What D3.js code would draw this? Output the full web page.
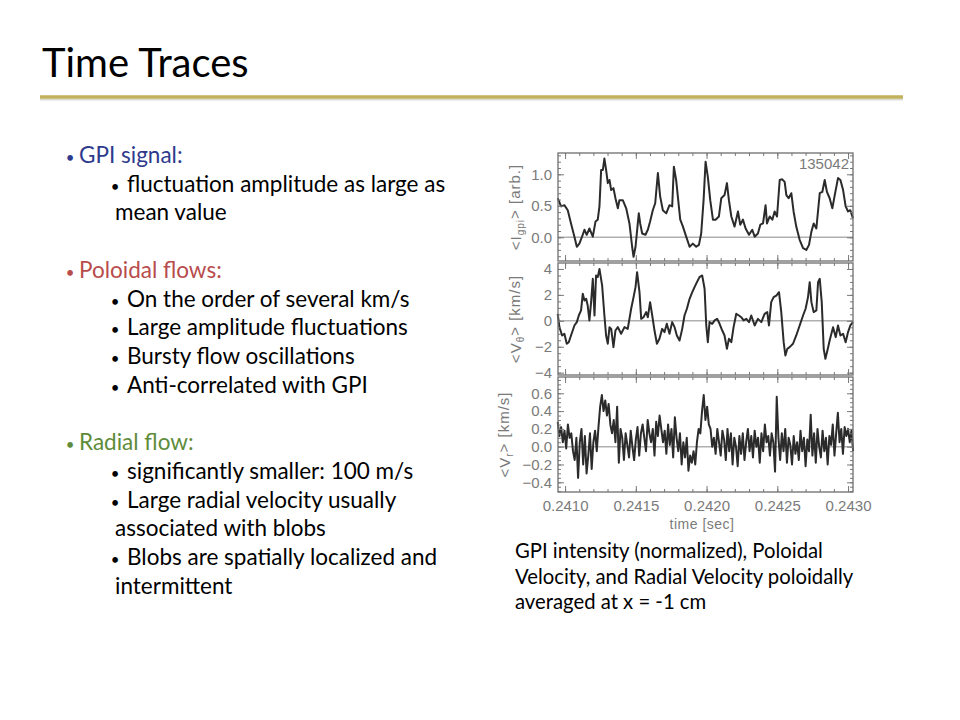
<!DOCTYPE html>
<html>
<head>
<meta charset="utf-8">
<script src="https://cdn.jsdelivr.net/npm/d3@7"></script>
<style>
  body { margin: 0; background: #fff; }
  text { font-family: Lato, "Open Sans", sans-serif; }
  .plot text { font-family: "Liberation Sans", Arial, sans-serif; }
</style>
</head>
<body>
<svg id="slide" width="960" height="720"></svg>
<script>
// ---- data ----
const shotNumber = "135042";

// GPI intensity <I_gpi> [arb.]
const gpiTime = [0.240948,0.240972,0.240995,0.241019,0.241042,0.241066,0.241083,0.241101,0.241120,0.241137,
  0.241153,0.241172,0.241196,0.241215,0.241231,0.241243,0.241255,0.241267,0.241278,0.241290,
  0.241302,0.241314,0.241326,0.241342,0.241356,0.241373,0.241384,0.241408,0.241432,0.241455,
  0.241474,0.241484,0.241498,0.241514,0.241521,0.241531,0.241545,0.241568,0.241585,0.241601,
  0.241620,0.241637,0.241656,0.241672,0.241691,0.241715,0.241738,0.241757,0.241769,0.241785,
  0.241802,0.241814,0.241833,0.241856,0.241880,0.241903,0.241927,0.241946,0.241962,0.241979,
  0.241993,0.242009,0.242026,0.242045,0.242064,0.242087,0.242104,0.242127,0.242144,0.242158,
  0.242175,0.242198,0.242222,0.242238,0.242257,0.242276,0.242300,0.242323,0.242340,0.242363,
  0.242380,0.242399,0.242417,0.242427,0.242446,0.242465,0.242481,0.242498,0.242517,0.242535,
  0.242552,0.242564,0.242580,0.242599,0.242615,0.242634,0.242658,0.242682,0.242705,0.242724,
  0.242741,0.242757,0.242776,0.242800,0.242818,0.242835,0.242851,0.242870,0.242889,0.242906,
  0.242929,0.242946,0.242965,0.242983,0.243000,0.243016,0.243035];
const gpiValue = [0.62,0.49,0.51,0.43,0.22,0.01,-0.15,-0.10,0.01,0.12,
  0.04,0.14,0.01,0.25,0.28,0.49,1.07,1.07,1.25,1.07,
  0.86,0.91,0.75,0.78,0.62,0.46,0.59,0.59,0.46,0.22,
  -0.15,-0.31,-0.15,0.22,0.38,0.22,0.06,0.04,0.12,0.25,
  0.43,0.54,1.02,0.65,0.43,0.38,0.51,0.49,1.12,0.91,
  0.54,0.28,0.17,0.01,-0.15,-0.10,-0.15,-0.12,0.06,0.59,
  1.20,0.96,0.59,0.28,0.28,0.33,0.62,0.67,0.86,0.59,
  0.33,0.17,0.41,0.20,0.28,0.14,0.04,0.12,0.01,0.06,
  0.20,0.22,0.51,0.22,0.33,0.28,0.41,0.33,0.91,0.92,
  0.88,0.67,0.62,0.70,0.41,0.17,-0.04,-0.17,-0.20,-0.12,
  0.09,0.22,0.14,0.70,0.72,0.91,0.72,0.62,0.46,0.67,
  0.94,0.91,0.75,0.49,0.41,0.43,0.30];

// poloidal velocity <V_theta> [km/s]
const vthTime = [0.240948,0.240960,0.240979,0.240995,0.241012,0.241026,0.241042,0.241066,0.241083,0.241097,
  0.241113,0.241125,0.241137,0.241149,0.241160,0.241172,0.241184,0.241196,0.241208,0.241219,
  0.241231,0.241243,0.241262,0.241278,0.241290,0.241302,0.241314,0.241326,0.241342,0.241356,
  0.241373,0.241396,0.241420,0.241443,0.241467,0.241484,0.241498,0.241509,0.241526,0.241538,
  0.241554,0.241573,0.241585,0.241601,0.241616,0.241632,0.241649,0.241667,0.241686,0.241703,
  0.241719,0.241738,0.241757,0.241774,0.241790,0.241809,0.241828,0.241844,0.241861,0.241880,
  0.241899,0.241915,0.241932,0.241950,0.241969,0.241986,0.241998,0.242009,0.242021,0.242040,
  0.242057,0.242075,0.242092,0.242111,0.242127,0.242144,0.242158,0.242175,0.242191,0.242210,
  0.242229,0.242245,0.242262,0.242281,0.242300,0.242316,0.242340,0.242363,0.242387,0.242410,
  0.242429,0.242441,0.242457,0.242474,0.242493,0.242512,0.242528,0.242545,0.242557,0.242571,
  0.242587,0.242611,0.242634,0.242658,0.242682,0.242700,0.242717,0.242729,0.242741,0.242757,
  0.242776,0.242788,0.242800,0.242814,0.242828,0.242840,0.242854,0.242870,0.242894,0.242913,
  0.242929,0.242946,0.242965,0.242983,0.243000,0.243016,0.243035];
const vthValue = [0.54,-0.49,-1.13,-1.00,-1.77,-1.65,-1.13,-0.36,-0.10,0.41,
  0.80,2.08,1.57,1.70,1.18,0.03,1.44,3.24,0.41,3.50,
  3.37,4.00,2.72,0.41,-1.13,-1.77,-0.49,-0.62,-2.03,-0.75,
  -0.49,-1.00,-0.49,-0.62,0.93,1.83,2.60,3.75,2.21,0.15,
  0.28,0.67,0.28,1.44,0.41,-0.75,-1.77,-1.39,-0.62,-0.87,
  -0.23,-1.00,-0.10,-0.49,-1.13,-1.52,-0.62,0.41,0.93,1.70,
  2.21,2.60,2.98,3.37,3.50,2.47,-0.36,-1.65,-0.10,-0.23,
  0.03,0.15,-0.23,-0.75,-1.13,-2.16,-1.39,-1.65,-0.49,0.54,
  0.41,0.28,0.03,0.15,-0.10,0.41,-0.36,0.15,-0.10,0.54,
  0.67,-0.36,1.44,1.83,1.95,2.21,0.67,-1.65,-2.67,-2.16,
  -2.03,-1.77,-1.13,-0.36,0.41,0.93,1.83,2.98,1.44,0.67,
  0.80,2.98,3.24,1.44,-2.16,-2.93,-2.29,-1.52,-0.49,-1.26,
  -0.36,-1.13,-1.00,-1.65,-0.87,-0.36,-0.10];

// radial velocity <V_r> [km/s], sampled every 12 us from 0.240948 s
const vrStart = 0.240948;
const vrStep = 0.000012;
const vrValue = [0.28,0.12,0.22,0.05,0.18,-0.02,0.25,0.10,0.15,-0.05,
  -0.15,0.10,-0.35,0.05,0.20,-0.20,0.12,-0.30,-0.10,
  0.15,-0.25,0.05,0.18,-0.05,0.22,
  0.45,0.58,0.40,0.52,0.35,0.48,
  0.25,0.15,0.30,0.05,0.45,-0.18,
  0.20,0.10,-0.15,0.15,0.02,-0.12,0.18,0.00,-0.15,
  0.08,0.22,-0.10,0.15,0.25,0.10,-0.05,0.30,0.15,0.05,
  0.20,-0.10,0.28,0.12,0.35,0.20,0.05,
  0.18,-0.08,0.25,0.02,0.20,-0.12,0.33,0.10,
  -0.05,0.15,-0.20,0.05,-0.12,0.10,-0.27,-0.10,-0.18,-0.05,
  -0.20,0.05,0.20,0.15,
  0.40,0.58,0.30,0.45,0.25,0.20,
  0.00,0.10,-0.08,0.20,0.05,-0.10,0.18,0.08,-0.15,0.20,
  -0.05,0.15,-0.20,0.10,0.00,-0.22,0.12,-0.08,0.15,-0.15,
  0.05,0.20,-0.05,0.12,-0.12,0.18,0.00,0.10,-0.18,0.15,
  -0.05,0.25,0.05,0.12,-0.10,0.15,
  0.05,-0.28,0.56,0.10,
  -0.15,0.15,-0.05,0.20,-0.18,0.10,0.02,-0.20,0.12,-0.08,
  0.05,-0.15,0.18,-0.05,0.10,-0.22,0.08,-0.05,0.36,-0.10,
  0.15,-0.18,0.20,0.00,-0.12,0.18,-0.05,0.10,-0.20,0.12,
  0.02,0.25,-0.10,0.15,0.38,0.05,0.20,-0.08,0.22,0.12,
  0.20,0.05,0.18,-0.05];

// axis ticks
const timeTicks = [0.2410, 0.2415, 0.2420, 0.2425, 0.2430];
const gpiTicks = [0.0, 0.5, 1.0];
const vthTicks = [-4, -2, 0, 2, 4];
const vrTicks = [-0.4, -0.2, 0.0, 0.2, 0.4, 0.6];

// slide text
const slideTitle = "Time Traces";
const outline = [
  { level: 0, text: "GPI signal:", color: "#2e3a8c" },
  { level: 1, text: "fluctuation amplitude as large as" },
  { level: 2, text: "mean value" },
  null,
  { level: 0, text: "Poloidal flows:", color: "#b84c4c" },
  { level: 1, text: "On the order of several km/s" },
  { level: 1, text: "Large amplitude fluctuations" },
  { level: 1, text: "Bursty flow oscillations" },
  { level: 1, text: "Anti-correlated with GPI" },
  null,
  { level: 0, text: "Radial flow:", color: "#5e8c3a" },
  { level: 1, text: "significantly smaller: 100 m/s" },
  { level: 1, text: "Large radial velocity usually" },
  { level: 2, text: "associated with blobs" },
  { level: 1, text: "Blobs are spatially localized and" },
  { level: 2, text: "intermittent" }
];
const caption = [
  "GPI intensity (normalized), Poloidal",
  "Velocity, and Radial Velocity poloidally",
  "averaged at x = -1 cm"
];

// ---- slide ----
const svg = d3.select("#slide");

svg.append("text")
  .attr("x", 42).attr("y", 77)
  .attr("font-size", 40)
  .attr("fill", "#000")
  .text(slideTitle);

svg.append("line")
  .attr("x1", 40).attr("x2", 903).attr("y1", 99.5).attr("y2", 99.5)
  .attr("stroke", "#dcdcd4").attr("stroke-width", 2);
svg.append("line")
  .attr("x1", 40).attr("x2", 903).attr("y1", 97).attr("y2", 97)
  .attr("stroke", "#c2b25c").attr("stroke-width", 3.5);

// bulleted text
const textX = [79, 127, 115];
const bulletX = [70, 115];
const lineH = 28.73;
const body = svg.append("g").attr("font-size", 22.5);
outline.forEach((d, i) => {
  if (!d) return;
  const y = 163 + i * lineH;
  if (d.level < 2) {
    body.append("text")
      .attr("x", bulletX[d.level]).attr("y", y)
      .attr("text-anchor", "middle")
      .attr("fill", d.color || "#000")
      .attr("font-size", 15)
      .text("\u2022");
  }
  body.append("text")
    .attr("x", textX[d.level]).attr("y", y)
    .attr("fill", d.color || "#000")
    .text(d.text);
});

svg.append("g").attr("font-size", 20.3)
  .selectAll("text").data(caption).join("text")
  .attr("x", 515)
  .attr("y", (d, i) => 558 + i * 25.5)
  .attr("fill", "#000")
  .text(d => d);

// ---- plot ----
const plot = svg.append("g").attr("class", "plot");
const grey = "#7a7a7a";

const x = d3.scaleLinear().domain([0.24095, 0.243035]).range([558, 853]);

const panels = [
  { time: gpiTime, value: gpiValue, domain: [-0.376, 1.338], top: 153, bottom: 261,
    ticks: gpiTicks, minor: 0.1, fmt: d3.format(".1f"), label: ["<I", "gpi", "> [arb.]"], labelX: 516 },
  { time: vthTime, value: vthValue, domain: [-4.18, 4.46], top: 263, bottom: 375,
    ticks: vthTicks, minor: 0.5, fmt: d3.format("d"), label: ["<V", "\u03b8", "> [km/s]"], labelX: 516 },
  { time: vrValue.map((v, i) => vrStart + i * vrStep), value: vrValue, domain: [-0.509, 0.783], top: 377, bottom: 492,
    ticks: vrTicks, minor: 0.05, fmt: d3.format(".1f"), label: ["<V", "r", "> [km/s]"], labelX: 505 }
];

const xMinor = d3.range(0.2410, 0.24305, 0.0001);

panels.forEach((p, k) => {
  const y = d3.scaleLinear().domain(p.domain).range([p.bottom, p.top]);
  const g = plot.append("g");
  const minor = d3.range(Math.ceil(p.domain[0] / p.minor) * p.minor, p.domain[1], p.minor);

  // zero reference line
  g.append("line")
    .attr("x1", x.range()[0]).attr("x2", x.range()[1])
    .attr("y1", y(0)).attr("y2", y(0))
    .attr("stroke", "#b0b0b0").attr("stroke-width", 1.6);

  // trace
  const line = d3.line().x(d => x(d[0])).y(d => y(d[1]));
  g.append("path")
    .datum(d3.zip(p.time, p.value))
    .attr("d", line)
    .attr("fill", "none")
    .attr("stroke", "#2b2b2b")
    .attr("stroke-width", 2)
    .attr("stroke-linejoin", "round");

  // axes: ticks pointing inward on all four sides
  g.append("g").attr("transform", `translate(${x.range()[0]},0)`)
    .call(d3.axisLeft(y).tickValues(p.ticks).tickFormat(p.fmt).tickSize(-6).tickPadding(6));
  g.append("g").attr("transform", `translate(${x.range()[0]},0)`)
    .call(d3.axisLeft(y).tickValues(minor).tickFormat("").tickSize(-3));
  g.append("g").attr("transform", `translate(${x.range()[1]},0)`)
    .call(d3.axisRight(y).tickValues(p.ticks).tickFormat("").tickSize(-6));
  g.append("g").attr("transform", `translate(${x.range()[1]},0)`)
    .call(d3.axisRight(y).tickValues(minor).tickFormat("").tickSize(-3));

  g.append("g").attr("transform", `translate(0,${p.top})`)
    .call(d3.axisTop(x).tickValues(timeTicks).tickFormat("").tickSize(-6));
  g.append("g").attr("transform", `translate(0,${p.top})`)
    .call(d3.axisTop(x).tickValues(xMinor).tickFormat("").tickSize(-3));
  g.append("g").attr("transform", `translate(0,${p.bottom})`)
    .call(d3.axisBottom(x).tickValues(timeTicks)
      .tickFormat(k === panels.length - 1 ? d3.format(".4f") : "")
      .tickSize(-6).tickPadding(8));
  g.append("g").attr("transform", `translate(0,${p.bottom})`)
    .call(d3.axisBottom(x).tickValues(xMinor).tickFormat("").tickSize(-3));

  // frame
  g.append("rect")
    .attr("x", x.range()[0]).attr("y", p.top)
    .attr("width", x.range()[1] - x.range()[0]).attr("height", p.bottom - p.top)
    .attr("fill", "none").attr("stroke", "#6e6e6e").attr("stroke-width", 1.3);

  g.selectAll(".domain").remove();
  g.selectAll(".tick line").attr("stroke", grey);
  g.selectAll(".tick text").attr("fill", grey).attr("font-size", 15);

  // rotated axis title with subscript
  const t = g.append("text")
    .attr("transform", `translate(${p.labelX},${(p.top + p.bottom) / 2}) rotate(-90)`)
    .attr("text-anchor", "middle")
    .attr("dy", "0.35em")
    .attr("font-size", 15)
    .attr("letter-spacing", 1)
    .attr("fill", grey);
  t.append("tspan").text(p.label[0]);
  t.append("tspan").attr("font-size", 10).attr("dy", "0.3em").text(p.label[1]);
  t.append("tspan").attr("dy", "-0.3em").text(p.label[2]);

  if (k === 0) {
    g.append("text")
      .attr("x", 849).attr("y", p.top + 16)
      .attr("text-anchor", "end")
      .attr("font-size", 15)
      .attr("fill", grey)
      .text(shotNumber);
  }
});

plot.append("text")
  .attr("x", 702).attr("y", 529)
  .attr("text-anchor", "middle")
  .attr("font-size", 14)
  .attr("letter-spacing", 0.5)
  .attr("fill", grey)
  .text("time [sec]");
</script>
</body>
</html>
